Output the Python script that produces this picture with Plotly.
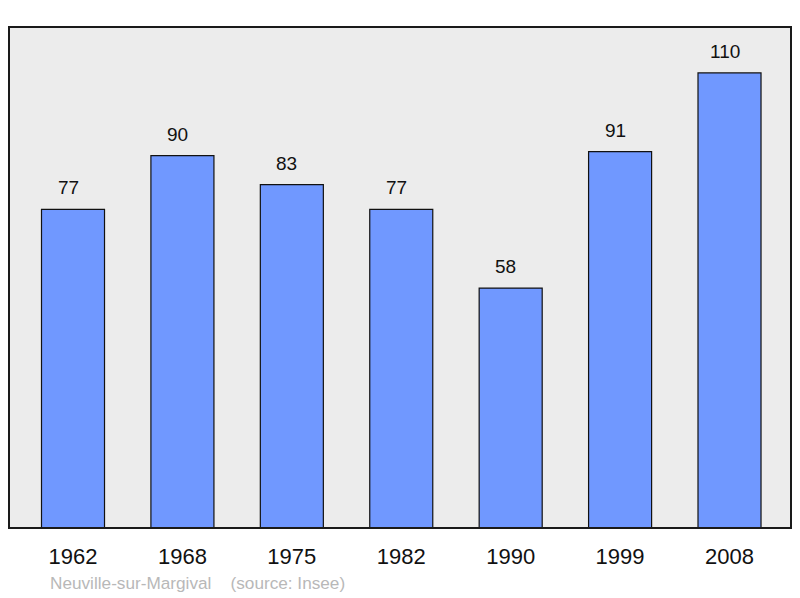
import plotly.graph_objects as go

years = ["1962", "1968", "1975", "1982", "1990", "1999", "2008"]
population = [77, 90, 83, 77, 58, 91, 110]
source_text = "Neuville-sur-Margival    (source: Insee)"

fig = go.Figure()
fig.add_trace(go.Bar(
    x=list(range(len(years))), y=population,
    width=0.576,
    marker=dict(color="#7098ff", line=dict(color="#111111", width=1.2)),
    hoverinfo="skip",
))

for i, v in enumerate(population):
    fig.add_annotation(x=i, y=v, text=str(v), showarrow=False,
                       yanchor="bottom", yshift=9, xshift=-5,
                       font=dict(family="Liberation Sans, Arial", size=19, color="#111"))

fig.add_annotation(xref="paper", yref="paper", x=(48 - 9) / 782, y=-(583 - 528) / 501,
                   xanchor="left", yanchor="middle", showarrow=False,
                   text=source_text.replace(" ", "&nbsp;"),
                   font=dict(family="Liberation Sans, Arial", size=17.2, color="#b8b8b8"))

fig.add_shape(type="rect", xref="paper", yref="paper", x0=0, y0=0, x1=1, y1=1,
              line=dict(color="#1a1a1a", width=2), layer="above")

fig.update_layout(
    width=800, height=598,
    margin=dict(l=9, r=9, t=27, b=70),
    paper_bgcolor="white", plot_bgcolor="#ececec",
    showlegend=False,
    xaxis=dict(range=[-0.585, 6.562], tickmode="array",
               tickvals=list(range(len(years))), ticktext=years,
               showgrid=False, zeroline=False, ticks="", ticklabelstandoff=13,
               tickfont=dict(family="Liberation Sans, Arial", size=22, color="#111"),
               fixedrange=True),
    yaxis=dict(range=[0, 121.1], showgrid=False, zeroline=False,
               showticklabels=False, fixedrange=True),
)

fig.write_html("out.html", config={"displayModeBar": False},
               post_script="document.body.style.margin='0';")
